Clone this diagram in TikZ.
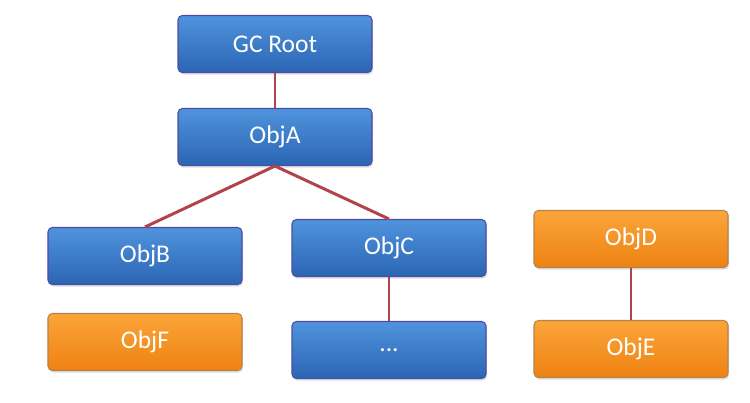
\documentclass[tikz,border=0pt]{standalone}
\usepackage{fontspec}
\setmainfont{Carlito}
\usetikzlibrary{shadows}

\tikzset{
  obj/.style={rounded corners=2.5pt, minimum width=3.88cm, minimum height=1.14cm,
    text=white, font=\fontsize{14.5}{17}\selectfont, line width=0.6pt,
    drop shadow={shadow xshift=0.6pt, shadow yshift=-1.2pt, opacity=0.25}},
  blueobj/.style={obj, draw=blue!50!black!70, top color=bluetop, bottom color=bluebot},
  orangeobj/.style={obj, draw=orange!60!black!70, top color=orangetop, bottom color=orangebot},
  link/.style={draw=linkred, line width=1.7pt}
}
\definecolor{bluetop}{HTML}{5093DD}
\definecolor{bluebot}{HTML}{2B65B3}
\definecolor{orangetop}{HTML}{FBA53A}
\definecolor{orangebot}{HTML}{EE8212}
\definecolor{linkred}{HTML}{B3424C}

\begin{document}
\begin{tikzpicture}
\useasboundingbox (0,0) rectangle (15,-8.04);

\node[blueobj] (root) at (5.5,-0.88) {GC Root};
\node[blueobj] (objA) at (5.5,-2.74) {ObjA};
\node[blueobj] (objB) at (2.9,-5.12) {ObjB};
\node[blueobj] (objC) at (7.78,-4.96) {ObjC};
\node[orangeobj] (objF) at (2.9,-6.84) {ObjF};
\node[blueobj] (dots) at (7.78,-7.0) {...};
\node[orangeobj] (objD) at (12.62,-4.78) {ObjD};
\node[orangeobj] (objE) at (12.62,-6.98) {ObjE};

% references
\draw[link] (root) -- (objA);
\draw[link] (objA.south) -- (objB.north);
\draw[link] (objA.south) -- (objC.north);
\draw[link] (objC) -- (dots);
\draw[link] (objD) -- (objE);

\end{tikzpicture}
\end{document}
